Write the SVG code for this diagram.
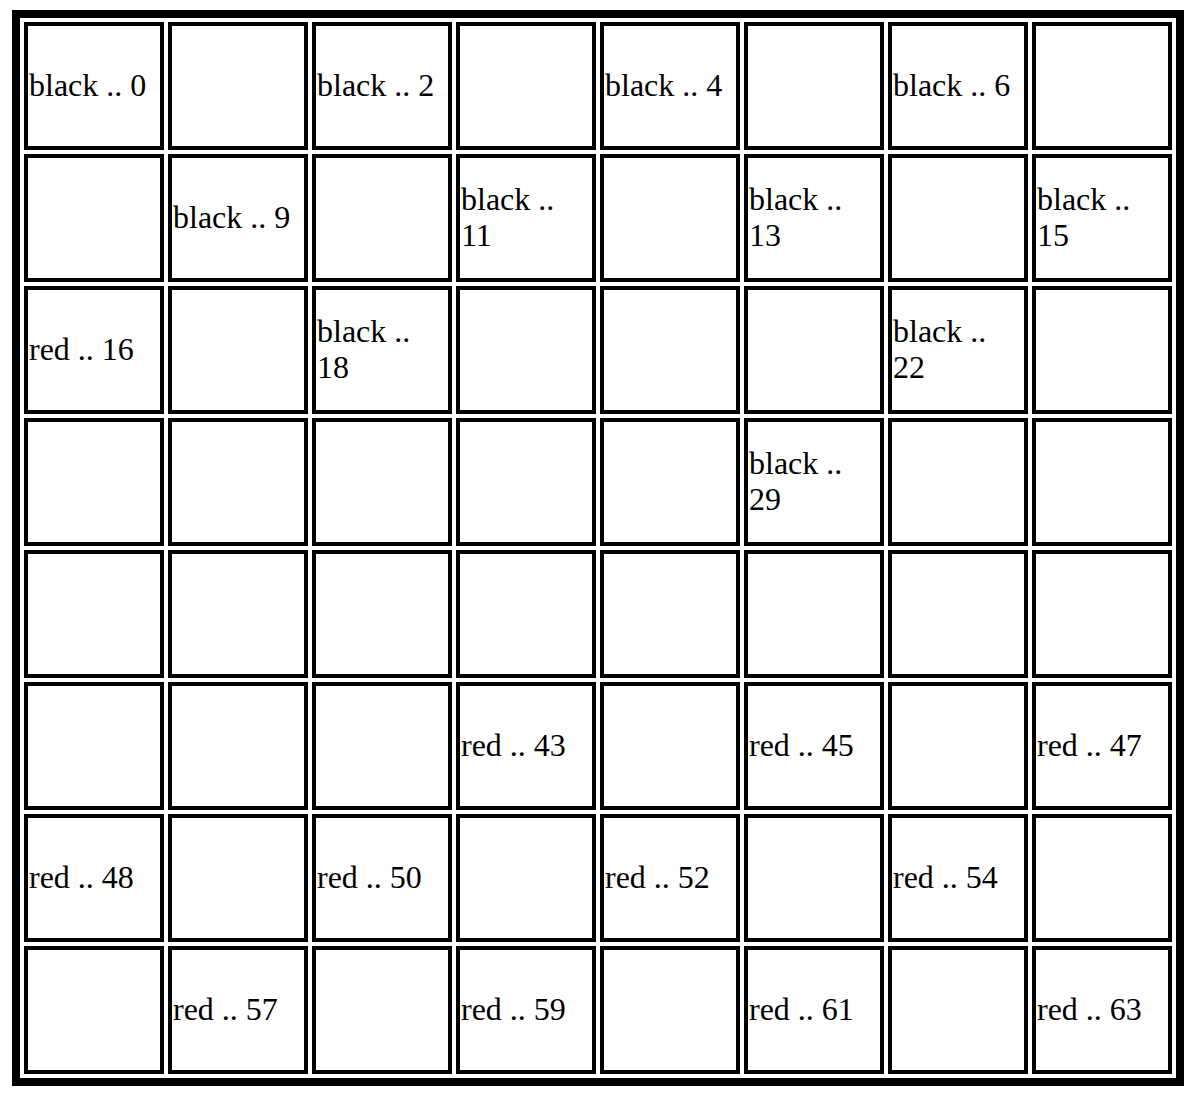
<svg xmlns="http://www.w3.org/2000/svg" width="1202" height="1100" viewBox="0 0 1202 1100">
<style>
.cell{fill:#fff;stroke:#000;stroke-width:4}
.t{font-family:"Liberation Serif","Times New Roman",serif;font-size:32px;fill:#000}
</style>
<rect width="1202" height="1100" fill="#fff"/>
<g id="table">
<rect x="16" y="14" width="1164" height="1068" fill="none" stroke="#000" stroke-width="8"/>
</g>
<g id="cells">
<g id="r0"><rect class="cell" x="26" y="24" width="136" height="124"/><rect class="cell" x="170" y="24" width="136" height="124"/><rect class="cell" x="314" y="24" width="136" height="124"/><rect class="cell" x="458" y="24" width="136" height="124"/><rect class="cell" x="602" y="24" width="136" height="124"/><rect class="cell" x="746" y="24" width="136" height="124"/><rect class="cell" x="890" y="24" width="136" height="124"/><rect class="cell" x="1034" y="24" width="136" height="124"/></g>
<g id="r1"><rect class="cell" x="26" y="156" width="136" height="124"/><rect class="cell" x="170" y="156" width="136" height="124"/><rect class="cell" x="314" y="156" width="136" height="124"/><rect class="cell" x="458" y="156" width="136" height="124"/><rect class="cell" x="602" y="156" width="136" height="124"/><rect class="cell" x="746" y="156" width="136" height="124"/><rect class="cell" x="890" y="156" width="136" height="124"/><rect class="cell" x="1034" y="156" width="136" height="124"/></g>
<g id="r2"><rect class="cell" x="26" y="288" width="136" height="124"/><rect class="cell" x="170" y="288" width="136" height="124"/><rect class="cell" x="314" y="288" width="136" height="124"/><rect class="cell" x="458" y="288" width="136" height="124"/><rect class="cell" x="602" y="288" width="136" height="124"/><rect class="cell" x="746" y="288" width="136" height="124"/><rect class="cell" x="890" y="288" width="136" height="124"/><rect class="cell" x="1034" y="288" width="136" height="124"/></g>
<g id="r3"><rect class="cell" x="26" y="420" width="136" height="124"/><rect class="cell" x="170" y="420" width="136" height="124"/><rect class="cell" x="314" y="420" width="136" height="124"/><rect class="cell" x="458" y="420" width="136" height="124"/><rect class="cell" x="602" y="420" width="136" height="124"/><rect class="cell" x="746" y="420" width="136" height="124"/><rect class="cell" x="890" y="420" width="136" height="124"/><rect class="cell" x="1034" y="420" width="136" height="124"/></g>
<g id="r4"><rect class="cell" x="26" y="552" width="136" height="124"/><rect class="cell" x="170" y="552" width="136" height="124"/><rect class="cell" x="314" y="552" width="136" height="124"/><rect class="cell" x="458" y="552" width="136" height="124"/><rect class="cell" x="602" y="552" width="136" height="124"/><rect class="cell" x="746" y="552" width="136" height="124"/><rect class="cell" x="890" y="552" width="136" height="124"/><rect class="cell" x="1034" y="552" width="136" height="124"/></g>
<g id="r5"><rect class="cell" x="26" y="684" width="136" height="124"/><rect class="cell" x="170" y="684" width="136" height="124"/><rect class="cell" x="314" y="684" width="136" height="124"/><rect class="cell" x="458" y="684" width="136" height="124"/><rect class="cell" x="602" y="684" width="136" height="124"/><rect class="cell" x="746" y="684" width="136" height="124"/><rect class="cell" x="890" y="684" width="136" height="124"/><rect class="cell" x="1034" y="684" width="136" height="124"/></g>
<g id="r6"><rect class="cell" x="26" y="816" width="136" height="124"/><rect class="cell" x="170" y="816" width="136" height="124"/><rect class="cell" x="314" y="816" width="136" height="124"/><rect class="cell" x="458" y="816" width="136" height="124"/><rect class="cell" x="602" y="816" width="136" height="124"/><rect class="cell" x="746" y="816" width="136" height="124"/><rect class="cell" x="890" y="816" width="136" height="124"/><rect class="cell" x="1034" y="816" width="136" height="124"/></g>
<g id="r7"><rect class="cell" x="26" y="948" width="136" height="124"/><rect class="cell" x="170" y="948" width="136" height="124"/><rect class="cell" x="314" y="948" width="136" height="124"/><rect class="cell" x="458" y="948" width="136" height="124"/><rect class="cell" x="602" y="948" width="136" height="124"/><rect class="cell" x="746" y="948" width="136" height="124"/><rect class="cell" x="890" y="948" width="136" height="124"/><rect class="cell" x="1034" y="948" width="136" height="124"/></g>
</g>
<g id="labels" class="t">
<text x="29" y="96">black .. 0</text>
<text x="317" y="96">black .. 2</text>
<text x="605" y="96">black .. 4</text>
<text x="893" y="96">black .. 6</text>
<text x="173" y="228">black .. 9</text>
<text x="461" y="210">black ..</text><text x="461" y="246">11</text>
<text x="749" y="210">black ..</text><text x="749" y="246">13</text>
<text x="1037" y="210">black ..</text><text x="1037" y="246">15</text>
<text x="29" y="360">red .. 16</text>
<text x="317" y="342">black ..</text><text x="317" y="378">18</text>
<text x="893" y="342">black ..</text><text x="893" y="378">22</text>
<text x="749" y="474">black ..</text><text x="749" y="510">29</text>
<text x="461" y="756">red .. 43</text>
<text x="749" y="756">red .. 45</text>
<text x="1037" y="756">red .. 47</text>
<text x="29" y="888">red .. 48</text>
<text x="317" y="888">red .. 50</text>
<text x="605" y="888">red .. 52</text>
<text x="893" y="888">red .. 54</text>
<text x="173" y="1020">red .. 57</text>
<text x="461" y="1020">red .. 59</text>
<text x="749" y="1020">red .. 61</text>
<text x="1037" y="1020">red .. 63</text>
</g>
</svg>
